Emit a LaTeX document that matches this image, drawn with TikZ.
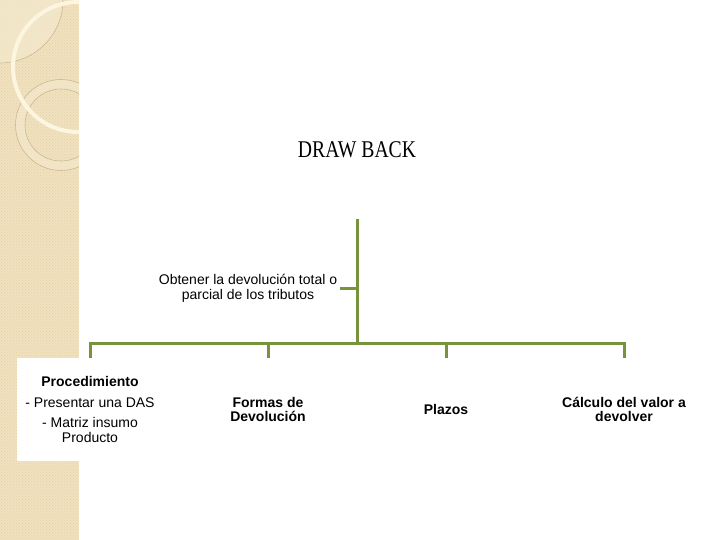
\documentclass[tikz,border=0pt]{standalone}
\usepackage{fontspec}
\setmainfont{Liberation Sans}
\newfontfamily\titlefont[FakeStretch=0.82]{Liberation Serif}
\usepackage{tikz}
\usetikzlibrary{patterns}
\usepackage{xcolor}
\definecolor{olive}{HTML}{77933C}
\definecolor{stripbg}{HTML}{F0E1BF}
\definecolor{stripdot}{HTML}{E4D1A8}
\definecolor{stripli}{HTML}{F5EBD2}
\definecolor{ringline}{HTML}{CDB88F}
\definecolor{cream}{HTML}{FCF5DF}

\tikzset{
  bus/.style={draw=olive,line width=3pt},
  child/.style={minimum width=146pt,minimum height=103pt,align=center,inner sep=0pt,
    font=\fontsize{14}{14.5}\selectfont\bfseries},
  goal/.style={align=center,inner sep=2.5pt,font=\fontsize{14}{15}\selectfont}
}

\begin{document}
\begin{tikzpicture}[x=1pt,y=-1pt]
  \useasboundingbox (0,0) rectangle (720,540);
  \fill[white] (0,0) rectangle (720,540);
  \fill[stripbg] (0,0) rectangle (79,540);
  \fill[pattern=crosshatch dots,pattern color=stripdot] (0,0) rectangle (79,540);
  \begin{scope}
    \clip (0,0) rectangle (79,540);
    \fill[stripli,opacity=0.6] (0,0) circle (63);
    \draw[ringline,line width=0.6pt] (0,0) circle (63);
    \fill[stripli,opacity=0.5,even odd rule] (61,125) circle (45.5) (61,125) circle (36);
    \draw[ringline,line width=0.6pt] (61,125) circle (45.5);
    \draw[ringline,line width=0.6pt] (61,125) circle (36);
    \draw[cream,line width=4pt] (78,67) circle (65);
  \end{scope}

  \node (title) at (357,150) {\titlefont\fontsize{24}{24}\selectfont DRAW BACK};

  \coordinate (top) at (357,219);
  \coordinate (hub) at (357,343);
  \node[goal] (goal) at (248,288.5) {Obtener la devolución total o\\parcial de los tributos};

  \node[child,fill=white] (proc) at (90,409.5) {Procedimiento\\[6pt]
    \mdseries - Presentar una DAS\\[6pt]\mdseries - Matriz insumo\\\mdseries Producto};
  \node[child] (formas) at (268,409.5) {Formas de\\Devolución};
  \node[child] (plazos) at (446,409.5) {Plazos};
  \node[child] (calc) at (624,409.5) {Cálculo del valor a\\devolver};

  \draw[bus] (top) -- (hub);
  \draw[bus] (goal.east) -- (goal.east -| hub);
  \draw[bus] (proc.north) |- (hub) -| (calc.north);
  \draw[bus] (formas.north) -- (formas.north |- hub);
  \draw[bus] (plazos.north) -- (plazos.north |- hub);
\end{tikzpicture}
\end{document}
